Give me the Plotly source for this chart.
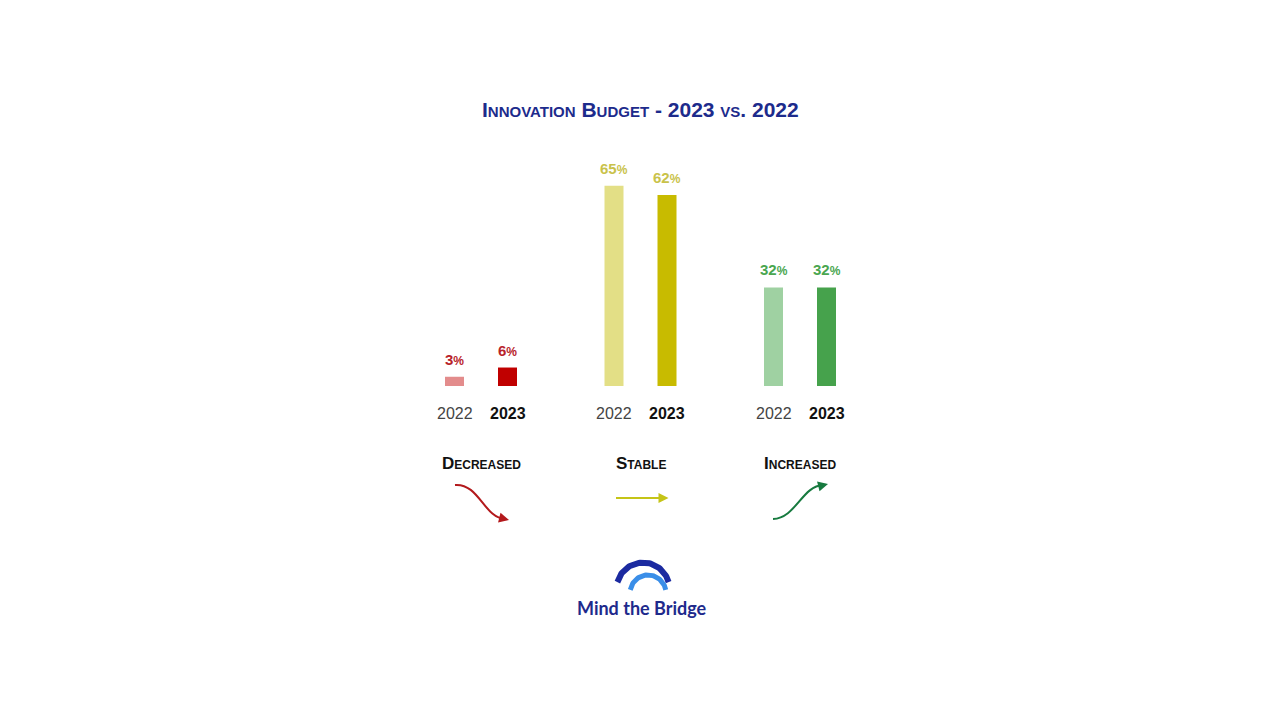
import numpy as np
import plotly.graph_objects as go

# ---------------- data ----------------
categories = ["Decreased", "Stable", "Increased"]
years = ["2022", "2023"]
values_2022 = [3, 65, 32]
values_2023 = [6, 62, 32]
colors_2022 = ["#e38c8c", "#e3df86", "#9fd1a2"]
colors_2023 = ["#c00000", "#c8bb00", "#46a24c"]
label_colors = ["#b8232a", "#c9c24a", "#4aa650"]
arrow_colors = ["#b3191c", "#c5c417", "#177a3f"]
title_text = "Innovation Budget - 2023 vs. 2022"
logo_text = "Mind the Bridge"

# ---------------- geometry ----------------
W, H = 1280, 720
PAGE_OFF = 8           # browser body margin
BASE_PX = 386 - PAGE_OFF
PX_PER_PCT = 3.08
FIRST_GROUP_PX = 481 - PAGE_OFF
GROUP_STEP_PX = 159.5
BAR_OFFSET_PX = 26.5
BAR_W_PX = 19

x_range = [-FIRST_GROUP_PX / GROUP_STEP_PX, (W - FIRST_GROUP_PX) / GROUP_STEP_PX]
y_range = [(BASE_PX - H) / PX_PER_PCT, BASE_PX / PX_PER_PCT]
bargap = 1 - 4 * BAR_OFFSET_PX / GROUP_STEP_PX
bargroupgap = 1 - BAR_W_PX / (2 * BAR_OFFSET_PX)

FONT = "Liberation Sans"

fig = go.Figure()
for yr, vals, cols in [(years[0], values_2022, colors_2022), (years[1], values_2023, colors_2023)]:
    fig.add_bar(
        x=categories, y=vals, name=yr,
        marker=dict(color=cols, line=dict(width=0)),
        hoverinfo="skip",
    )

annotations = []
shapes = []

# value labels
for shift, vals in [(-BAR_OFFSET_PX, values_2022), (BAR_OFFSET_PX, values_2023)]:
    for cat, v, col in zip(categories, vals, label_colors):
        annotations.append(dict(
            xref="x", x=cat, xshift=shift, yref="y", y=v, yanchor="bottom", yshift=7,
            text=f"<b>{v}<span style='font-size:12px'>%</span></b>", showarrow=False,
            font=dict(family=FONT, size=15, color=col),
        ))

# title
annotations.append(dict(
    xref="x2", x=640, yref="y2", y=109, text=f"<b>{title_text}</b>", showarrow=False,
    font=dict(family=FONT, size=21, color="#1d2b8c", variant="small-caps"),
))

# year labels and category headers
for i, cat in enumerate(categories):
    annotations.append(dict(xref="x", x=cat, xshift=-BAR_OFFSET_PX, yref="y2", y=413,
                            text=years[0], showarrow=False,
                            font=dict(family=FONT, size=16, color="#444444")))
    annotations.append(dict(xref="x", x=cat, xshift=BAR_OFFSET_PX, yref="y2", y=413,
                            text=f"<b>{years[1]}</b>", showarrow=False,
                            font=dict(family=FONT, size=16, color="#111111")))
    annotations.append(dict(xref="x", x=cat, yref="y2", y=463,
                            text=f"<b>{cat}</b>", showarrow=False,
                            font=dict(family=FONT, size=17, color="#111111", variant="small-caps")))

# trend arrows (decoration, page pixel space)
centers = [481 + i * GROUP_STEP_PX for i in range(3)]
c0, c1, c2 = centers
shapes.append(dict(type="path", xref="x2", yref="y2",
                   path=f"M {c0-26},485 C {c0-2},483 {c0+3},518 {c0+24},519",
                   line=dict(color=arrow_colors[0], width=2)))
annotations.append(dict(xref="x2", yref="y2", x=c0 + 28, y=520, ax=-8, ay=-2, text="",
                        showarrow=True, arrowhead=2, arrowsize=1, arrowwidth=2,
                        arrowcolor=arrow_colors[0]))
annotations.append(dict(xref="x2", yref="y2", x=c1 + 28, y=498, ax=-54, ay=0, text="",
                        showarrow=True, arrowhead=2, arrowsize=1, arrowwidth=2,
                        arrowcolor=arrow_colors[1]))
shapes.append(dict(type="path", xref="x2", yref="y2",
                   path=f"M {c2-27},519 C {c2-4},518 {c2+2},486 {c2+23},485",
                   line=dict(color=arrow_colors[2], width=2)))
annotations.append(dict(xref="x2", yref="y2", x=c2 + 28, y=484, ax=-8, ay=2, text="",
                        showarrow=True, arrowhead=2, arrowsize=1, arrowwidth=2,
                        arrowcolor=arrow_colors[2]))

# logo arcs
def arc(cx, cy, r, a0, a1, n=60):
    t = np.radians(np.linspace(a0, a1, n))
    return cx + r * np.cos(t), cy - r * np.sin(t)

ox, oy = arc(643, 589, 26.5, 165, 15)
fig.add_scatter(x=ox, y=oy, xaxis="x2", yaxis="y2", mode="lines",
                line=dict(color="#1b2aa0", width=6), hoverinfo="skip", showlegend=False)
ix, iy = arc(648, 593, 18, 170, 10)
fig.add_scatter(x=ix, y=iy, xaxis="x2", yaxis="y2", mode="lines",
                line=dict(color="#3a8ee8", width=5), hoverinfo="skip", showlegend=False)
annotations.append(dict(xref="x2", yref="y2", x=642, y=608, text=f"<b>{logo_text}</b>",
                        showarrow=False, font=dict(family="Lato", size=18, color="#1e2a8c")))

fig.update_layout(
    width=W, height=H, margin=dict(l=0, r=0, t=0, b=0),
    paper_bgcolor="white", plot_bgcolor="white", showlegend=False,
    barmode="group", bargap=bargap, bargroupgap=bargroupgap,
    xaxis=dict(range=x_range, visible=False, fixedrange=True),
    yaxis=dict(range=y_range, visible=False, fixedrange=True),
    xaxis2=dict(range=[PAGE_OFF, W + PAGE_OFF], overlaying="x", visible=False, fixedrange=True),
    yaxis2=dict(range=[H + PAGE_OFF, PAGE_OFF], overlaying="y", visible=False, fixedrange=True),
    annotations=annotations, shapes=shapes,
)

fig.write_html("out.html")
